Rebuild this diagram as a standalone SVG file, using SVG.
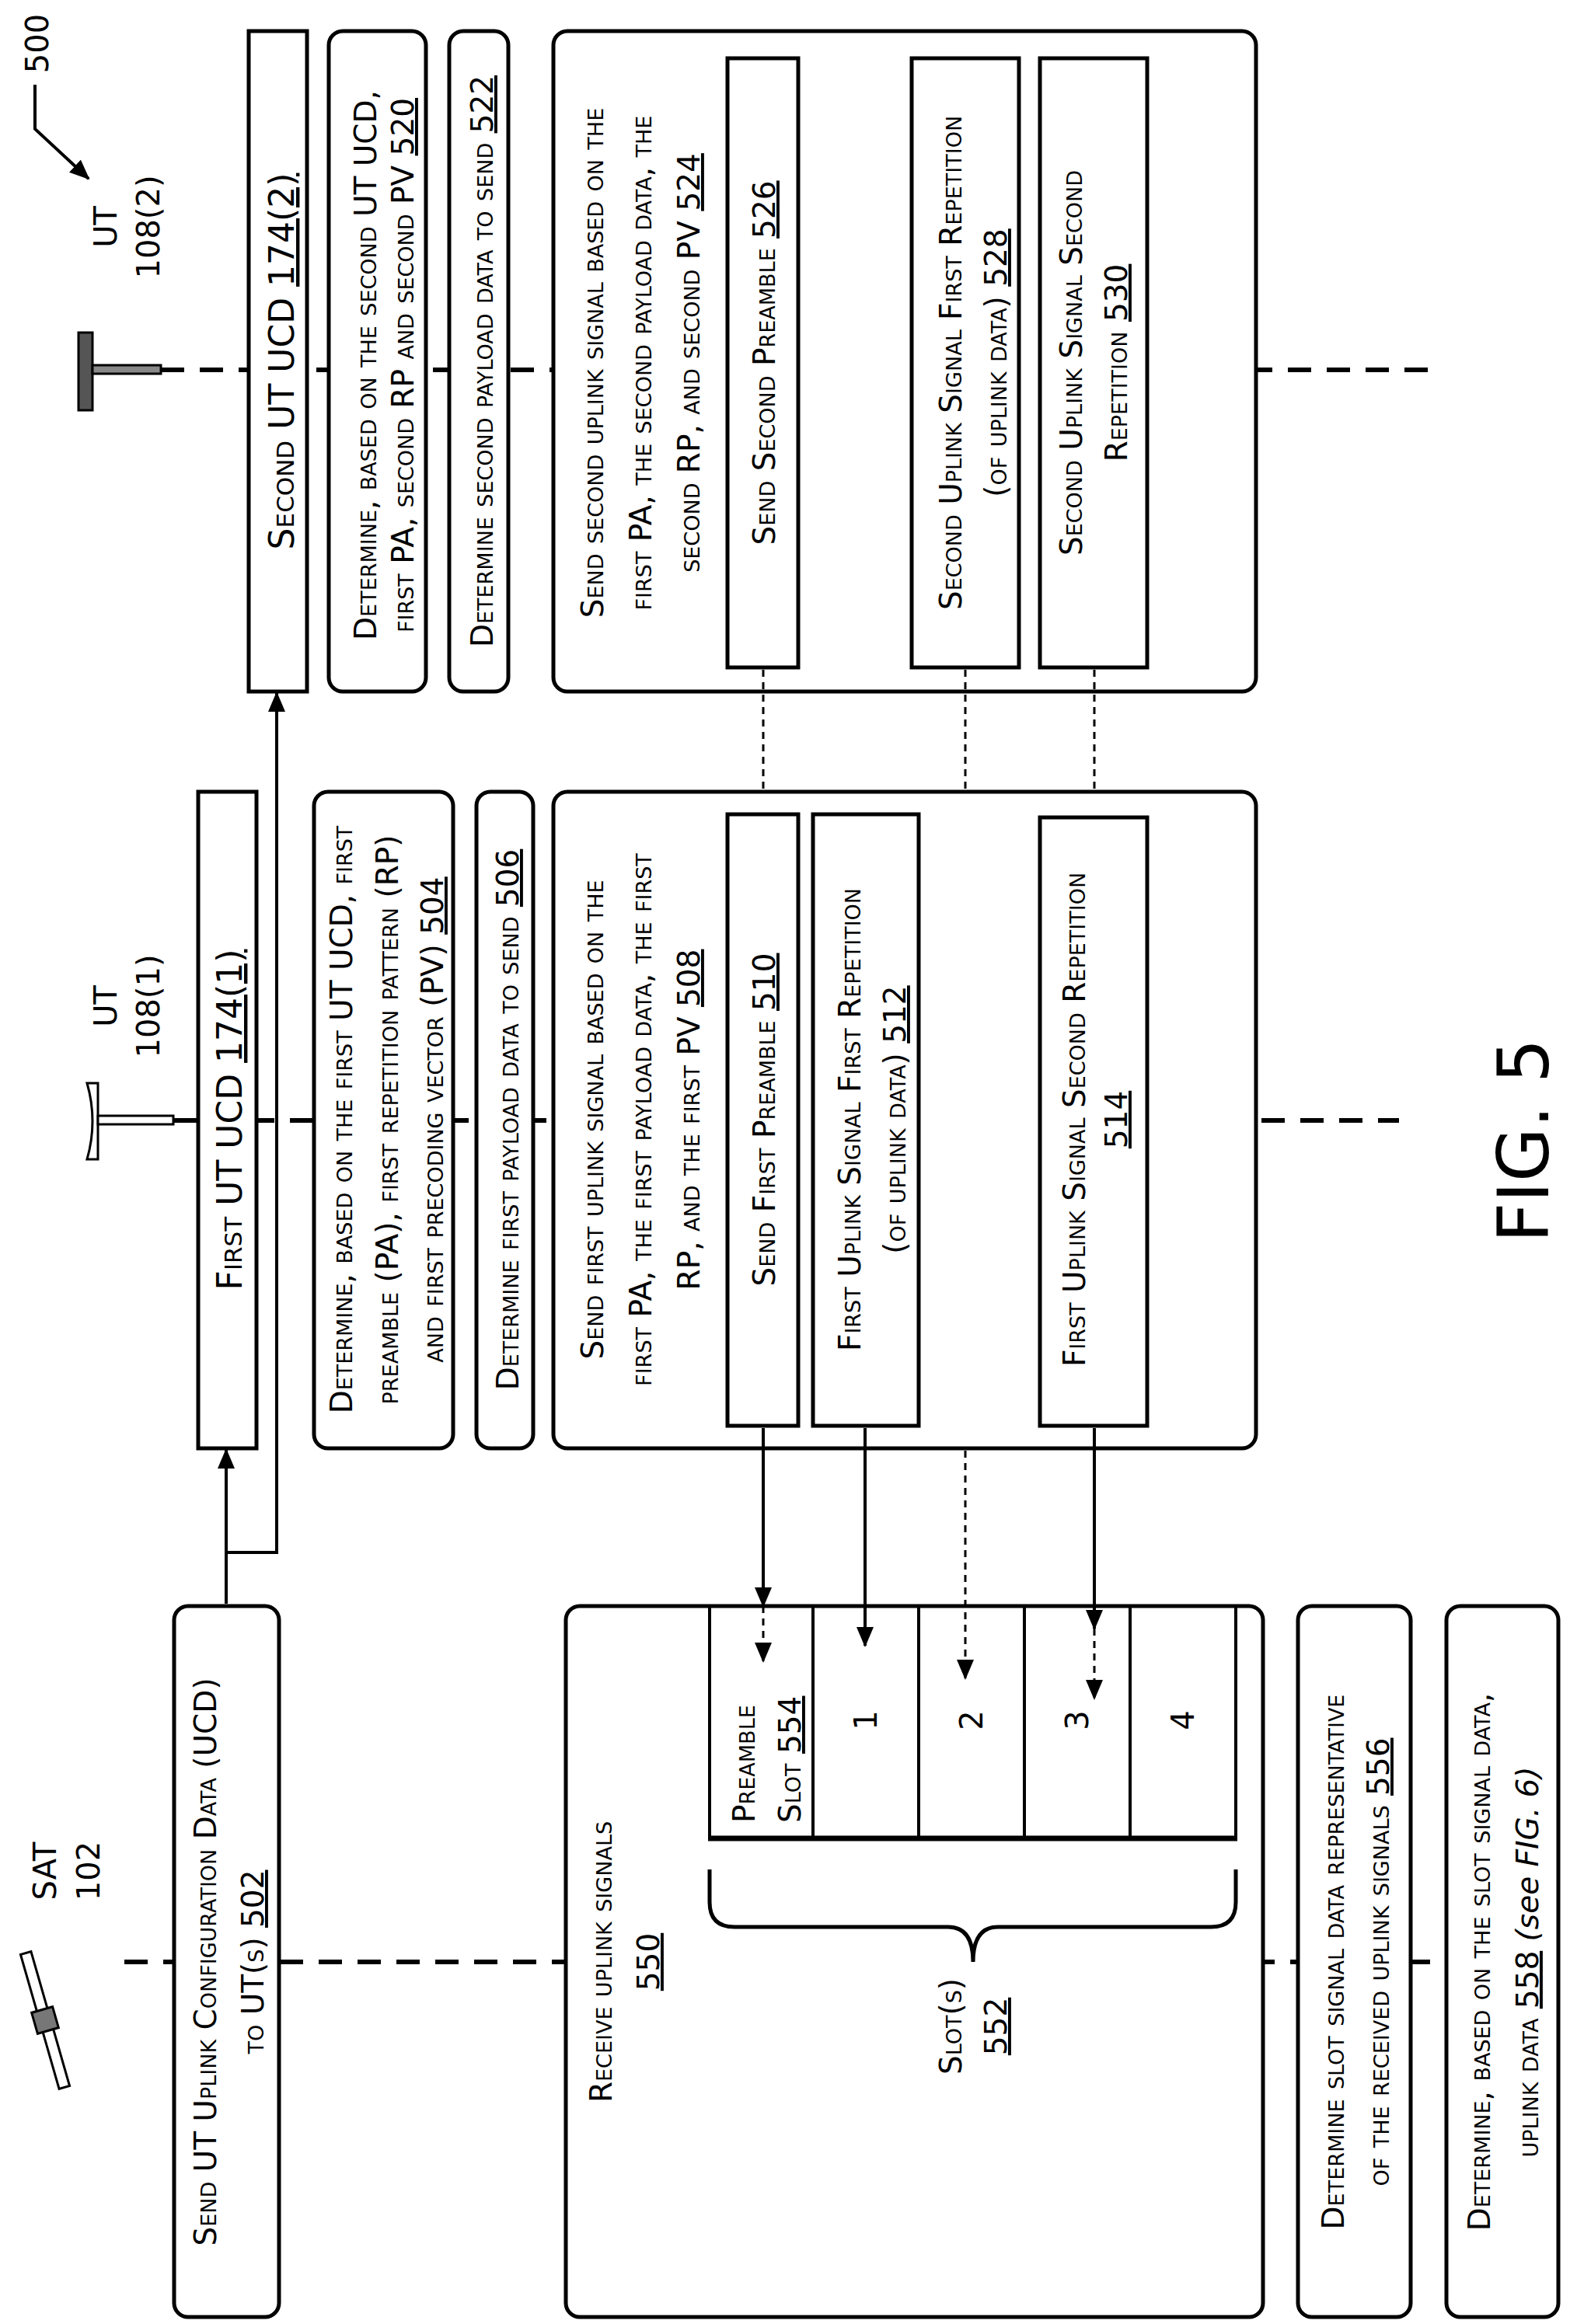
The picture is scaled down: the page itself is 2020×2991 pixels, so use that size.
<svg xmlns="http://www.w3.org/2000/svg" width="2020" height="2991" viewBox="0 0 2020 2991">
<style>
.box{fill:#fff;stroke:#000;stroke-width:5}
.t{font-family:"DejaVu Sans",sans-serif;font-size:39px;font-variant:small-caps;text-anchor:middle;fill:#000}
.h{font-size:44px}
.l{font-family:"DejaVu Sans",sans-serif;font-size:40px;text-anchor:middle;fill:#000}
.u{text-decoration:underline}
.life{stroke:#000;stroke-width:6;stroke-dasharray:30 20;fill:none}
.c{stroke:#000;stroke-width:4;fill:none}
.d{stroke:#000;stroke-width:3;stroke-dasharray:9 7;fill:none}
</style>
<defs>
<marker id="ah" markerUnits="userSpaceOnUse" markerWidth="26" markerHeight="22" refX="24" refY="11" orient="auto"><path d="M0,0 L26,11 L0,22 Z" fill="#000"/></marker>
</defs>
<rect width="2020" height="2991" fill="#fff"/>
<g id="lifelines">
<line class="life" x1="207" y1="476" x2="1852" y2="476"/>
<line class="life" x1="223" y1="1442" x2="1800" y2="1442"/>
<line class="life" x1="160" y1="2525" x2="1852" y2="2525"/>
</g>
<g id="ref500">
<text class="l" transform="translate(62,56) rotate(-90)">500</text>
<path class="c" d="M45,109 V166 L114,230" marker-end="url(#ah)"/>
</g>
<g id="ut2">
<text class="l" transform="translate(150,292) rotate(-90)">UT</text>
<text class="l" transform="translate(205,292) rotate(-90)">108(2)</text>
<rect x="101" y="428" width="18" height="100" fill="#555" stroke="#000" stroke-width="3"/>
<rect x="119" y="470" width="88" height="11" fill="#888" stroke="#000" stroke-width="3"/>
</g>
<g id="ut1">
<text class="l" transform="translate(150,1295) rotate(-90)">UT</text>
<text class="l" transform="translate(205,1295) rotate(-90)">108(1)</text>
<path d="M112,1394 Q126,1443 112,1492 L126,1492 L126,1394 Z" fill="#fff" stroke="#000" stroke-width="3"/>
<rect x="126" y="1436" width="97" height="11" fill="#fff" stroke="#000" stroke-width="3"/>
</g>
<g id="sat">
<text class="l" transform="translate(72,2408) rotate(-90)">SAT</text>
<text class="l" transform="translate(128,2408) rotate(-90)">102</text>
<g transform="translate(58,2600) rotate(-16)">
<rect x="-7" y="-90" width="14" height="180" fill="#fff" stroke="#000" stroke-width="3"/>
<rect x="-14" y="-14" width="28" height="28" fill="#777" stroke="#000" stroke-width="3"/>
</g>
</g>
<g id="n174_2">
<rect class="box" x="320" y="40" width="75" height="850"/>
<text class="t h" transform="translate(378,465) rotate(-90)">Second UT UCD <tspan class="u">174(2)</tspan></text>
</g>
<g id="n520">
<rect class="box" x="423" y="40" width="125" height="850" rx="18"/>
<text class="t" transform="translate(484,470) rotate(-90)">Determine, based on the second UT UCD,</text>
<text class="t" transform="translate(532,470) rotate(-90)">first PA, second RP and second PV <tspan class="u">520</tspan></text>
</g>
<g id="n522">
<rect class="box" x="578" y="40" width="76" height="850" rx="18"/>
<text class="t" transform="translate(634,465) rotate(-90)">Determine second payload data to send <tspan class="u">522</tspan></text>
</g>
<g id="n524">
<rect class="box" x="712" y="40" width="904" height="850" rx="18"/>
<text class="t" transform="translate(776,467) rotate(-90)">Send second uplink signal based on the</text>
<text class="t" transform="translate(838,467) rotate(-90)">first PA, the second payload data, the</text>
<text class="t" transform="translate(900,467) rotate(-90)">second RP, and second PV <tspan class="u">524</tspan></text>
</g>
<g id="n526">
<rect class="box" x="936" y="75" width="91" height="784"/>
<text class="t" transform="translate(997,467) rotate(-90)">Send Second Preamble <tspan class="u">526</tspan></text>
</g>
<g id="n528">
<rect class="box" x="1173" y="75" width="138" height="784"/>
<text class="t" transform="translate(1237,467) rotate(-90)">Second Uplink Signal First Repetition</text>
<text class="t" transform="translate(1295,467) rotate(-90)">(of uplink data) <tspan class="u">528</tspan></text>
</g>
<g id="n530">
<rect class="box" x="1338" y="75" width="138" height="784"/>
<text class="t" transform="translate(1392,467) rotate(-90)">Second Uplink Signal Second</text>
<text class="t" transform="translate(1450,467) rotate(-90)">Repetition <tspan class="u">530</tspan></text>
</g>
<g id="n174_1">
<rect class="box" x="255" y="1019" width="75" height="845"/>
<text class="t h" transform="translate(311,1441) rotate(-90)">First UT UCD <tspan class="u">174(1)</tspan></text>
</g>
<g id="n504">
<rect class="box" x="404" y="1019" width="179" height="845" rx="18"/>
<text class="t" transform="translate(453,1441) rotate(-90)">Determine, based on the first UT UCD, first</text>
<text class="t" transform="translate(512,1441) rotate(-90)">preamble (PA), first repetition pattern (RP)</text>
<text class="t" transform="translate(570,1441) rotate(-90)">and first precoding vector (PV) <tspan class="u">504</tspan></text>
</g>
<g id="n506">
<rect class="box" x="613" y="1019" width="73" height="845" rx="18"/>
<text class="t" transform="translate(667,1441) rotate(-90)">Determine first payload data to send <tspan class="u">506</tspan></text>
</g>
<g id="n508">
<rect class="box" x="712" y="1019" width="904" height="845" rx="18"/>
<text class="t" transform="translate(776,1441) rotate(-90)">Send first uplink signal based on the</text>
<text class="t" transform="translate(838,1441) rotate(-90)">first PA, the first payload data, the first</text>
<text class="t" transform="translate(900,1441) rotate(-90)">RP, and the first PV <tspan class="u">508</tspan></text>
</g>
<g id="n510">
<rect class="box" x="936" y="1048" width="91" height="787"/>
<text class="t" transform="translate(997,1441) rotate(-90)">Send First Preamble <tspan class="u">510</tspan></text>
</g>
<g id="n512">
<rect class="box" x="1046" y="1048" width="136" height="787"/>
<text class="t" transform="translate(1107,1441) rotate(-90)">First Uplink Signal First Repetition</text>
<text class="t" transform="translate(1165,1441) rotate(-90)">(of uplink data) <tspan class="u">512</tspan></text>
</g>
<g id="n514">
<rect class="box" x="1338" y="1052" width="138" height="783"/>
<text class="t" transform="translate(1396,1441) rotate(-90)">First Uplink Signal Second Repetition</text>
<text class="t" transform="translate(1450,1441) rotate(-90)"><tspan class="u">514</tspan></text>
</g>
<g id="fig">
<text font-family="DejaVu Sans,sans-serif" font-size="90" text-anchor="middle" transform="translate(1992,1468) rotate(-90)">FIG. 5</text>
</g>
<g id="n502">
<rect class="box" x="224" y="2067" width="135" height="915" rx="18"/>
<text class="t" transform="translate(278,2525) rotate(-90)">Send UT Uplink Configuration Data (UCD)</text>
<text class="t" transform="translate(339,2525) rotate(-90)">to UT(s) <tspan class="u">502</tspan></text>
</g>
<g id="n550">
<rect class="box" x="728" y="2067" width="897" height="915" rx="18"/>
<text class="t" transform="translate(787,2525) rotate(-90)">Receive uplink signals</text>
<text class="t" transform="translate(848,2525) rotate(-90)"><tspan class="u">550</tspan></text>
</g>
<g id="n554">
<path d="M913,2067 V2366 H1590 V2067" fill="none" stroke="#000" stroke-width="4"/>
<line x1="911" y1="2366" x2="1592" y2="2366" stroke="#000" stroke-width="7"/>
<path d="M1046,2067 V2366 M1182,2067 V2366 M1318,2067 V2366 M1454,2067 V2366" stroke="#000" stroke-width="4"/>
<text class="t" style="text-anchor:start" transform="translate(971,2346) rotate(-90)">Preamble</text>
<text class="t" style="text-anchor:start" transform="translate(1030,2346) rotate(-90)">Slot <tspan class="u">554</tspan></text>
<text class="l" transform="translate(1128,2214) rotate(-90)">1</text>
<text class="l" transform="translate(1264,2214) rotate(-90)">2</text>
<text class="l" transform="translate(1400,2214) rotate(-90)">3</text>
<text class="l" transform="translate(1536,2214) rotate(-90)">4</text>
</g>
<g id="n552">
<path d="M913,2406 V2448 Q913,2480 945,2480 H1220 Q1252,2480 1252,2525 Q1252,2480 1284,2480 H1558 Q1590,2480 1590,2448 V2406" fill="none" stroke="#000" stroke-width="5"/>
<text class="t" transform="translate(1237,2608) rotate(-90)">Slot(s)</text>
<text class="t" transform="translate(1295,2608) rotate(-90)"><tspan class="u">552</tspan></text>
</g>
<g id="n556">
<rect class="box" x="1670" y="2067" width="145" height="915" rx="18"/>
<text class="t" transform="translate(1729,2525) rotate(-90)">Determine slot signal data representative</text>
<text class="t" transform="translate(1787,2525) rotate(-90)">of the received uplink signals <tspan class="u">556</tspan></text>
</g>
<g id="n558">
<rect class="box" x="1861" y="2067" width="144" height="915" rx="18"/>
<text class="t" transform="translate(1917,2525) rotate(-90)">Determine, based on the slot signal data,</text>
<text class="t" transform="translate(1979,2525) rotate(-90)">uplink data <tspan class="u">558</tspan>  <tspan font-style="italic" font-variant="normal">(see FIG. 6)</tspan></text>
</g>
<g id="connectors">
<path class="c" d="M291,2064 V1866" marker-end="url(#ah)"/>
<path class="c" d="M291,1998 H356 V892" marker-end="url(#ah)"/>
<path class="d" d="M982,862 V1016 M1242,862 V1016 M1408,862 V1016"/>
<path class="c" d="M982,1838 V2067" marker-end="url(#ah)"/>
<path class="d" d="M982,2067 V2138" marker-end="url(#ah)"/>
<path class="c" d="M1113,1838 V2118" marker-end="url(#ah)"/>
<path class="d" d="M1242,1867 V2160" marker-end="url(#ah)"/>
<path class="c" d="M1408,1838 V2096" marker-end="url(#ah)"/>
<path class="d" d="M1408,2096 V2186" marker-end="url(#ah)"/>
</g>
</svg>
